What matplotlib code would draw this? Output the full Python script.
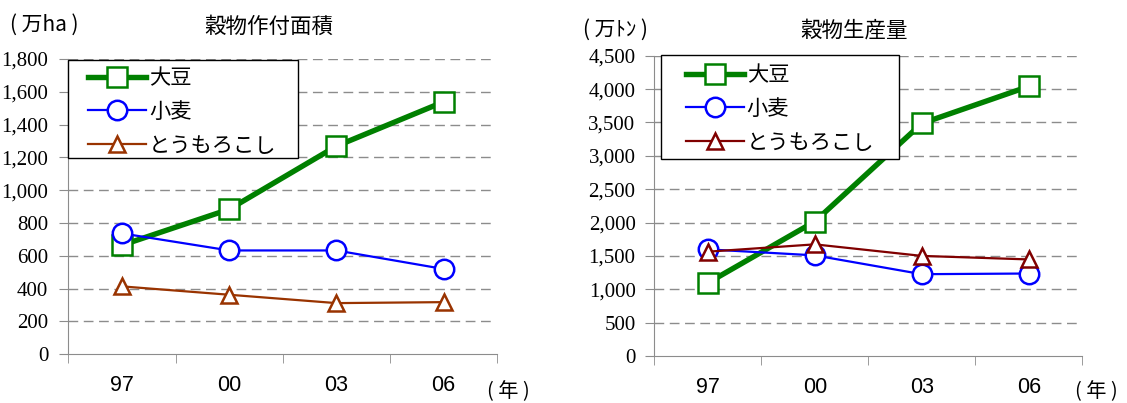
import numpy as np
import matplotlib
matplotlib.use('Agg')
import matplotlib.pyplot as plt
from matplotlib.patches import Rectangle
from matplotlib.ticker import FuncFormatter

plt.rcParams['font.family'] = ['Noto Sans CJK JP', 'DejaVu Sans']

years = ['97', '00', '03', '06']
series_names = ['大豆', '小麦', 'とうもろこし']

# 作付面積 (万ha)
area_soy = [665, 884, 1269, 1539]
area_wheat = [737, 633, 633, 520]
area_corn = [414, 363, 312, 318]

# 生産量 (万トン)
prod_soy = [1095, 2015, 3485, 4040]
prod_wheat = [1598, 1508, 1226, 1236]
prod_corn = [1563, 1673, 1500, 1447]

W, H = 1127, 403
grid_col = '#8c8c8c'


def fx(px):
    return px / W


def fy(py):
    return 1 - py / H


def draw_panel(ax, soy, wheat, corn, corn_col, ymax, ystep, pad, frame_px, leg_px):
    x = np.arange(len(years))
    ax.plot(x, soy, color='#008000', lw=3.9, marker='s', ms=14,
            mfc='white', mec='#008000', mew=1.8, label=series_names[0], zorder=3)
    ax.plot(x, wheat, color='#0000ff', lw=1.6, marker='o', ms=14,
            mfc='white', mec='#0000ff', mew=1.8, label=series_names[1], zorder=4)
    ax.plot(x, corn, color=corn_col, lw=1.6, marker='^', ms=12,
            mfc='white', mec=corn_col, mew=1.8, label=series_names[2], zorder=5)

    ax.set_xlim(-0.5, len(years) - 0.5)
    ax.set_ylim(0, ymax)
    ax.set_yticks(np.arange(0, ymax + 1, ystep))
    ax.yaxis.set_major_formatter(FuncFormatter(lambda v, p: f'{int(v):,}'))
    for lab in ax.get_yticklabels():
        lab.set_fontfamily('Liberation Serif')
        lab.set_fontsize(15)
    ax.tick_params(axis='y', length=6.5, color=grid_col, pad=pad)

    ax.set_xticks(x)
    ax.set_xticklabels(years, fontfamily='Liberation Sans', fontsize=15.5)
    ax.tick_params(axis='x', which='major', length=0, pad=15)
    ax.set_xticks(np.arange(-0.5, len(years)), minor=True)
    ax.tick_params(axis='x', which='minor', length=6.5, color=grid_col)

    for yv in np.arange(ystep, ymax + 1, ystep):
        ax.axhline(yv, xmax=0.988, color=grid_col, lw=1, dashes=(7, 4), zorder=1)

    for s in ['top', 'right']:
        ax.spines[s].set_visible(False)
    for s in ['left', 'bottom']:
        ax.spines[s].set_color(grid_col)

    # legend box
    x0, y0, x1, y1 = frame_px
    ax.add_patch(Rectangle((fx(x0), fy(y1)), fx(x1) - fx(x0), fy(y0) - fy(y1),
                           transform=ax.figure.transFigure, clip_on=False,
                           facecolor='white', edgecolor='black', lw=1, zorder=9))
    leg = ax.legend(loc='upper left', bbox_to_anchor=(fx(leg_px[0]), fy(leg_px[1])),
                    bbox_transform=ax.figure.transFigure, borderaxespad=0,
                    frameon=False, fontsize=15.3, handlelength=2.72,
                    handletextpad=0.14, borderpad=0, labelspacing=0.56)
    leg.set_zorder(10)
    return leg


fig = plt.figure(figsize=(W / 100, H / 100), dpi=100)

ax1 = fig.add_axes([fx(68.3), fy(354.3), (497.3 - 68.3) / W, (354.3 - 59) / H])
draw_panel(ax1, area_soy, area_wheat, area_corn, '#993300', 1800, 200, 8,
           (68.3, 60, 297.7, 158), (88.3, 67))

ax2 = fig.add_axes([fx(654.3), fy(356), (1082.3 - 654.3) / W, (356 - 55.7) / H])
draw_panel(ax2, prod_soy, prod_wheat, prod_corn, '#800000', 4500, 500, 7,
           (660.7, 55, 899.3, 159), (686, 64))

fig.text(fx(269), fy(27), '穀物作付面積', ha='center', va='center', fontsize=15.5)
fig.text(fx(854), fy(31), '穀物生産量', ha='center', va='center', fontsize=15.5)
fig.text(fx(10), fy(25), '( 万ha )', ha='left', va='center', fontsize=15)
fig.text(fx(583), fy(30), '( 万ﾄﾝ )', ha='left', va='center', fontsize=15)
fig.text(fx(508), fy(392), '( 年 )', ha='center', va='center', fontsize=14.5)
fig.text(fx(1096), fy(392), '( 年 )', ha='center', va='center', fontsize=14.5)

fig.savefig('out.png', dpi=100)
